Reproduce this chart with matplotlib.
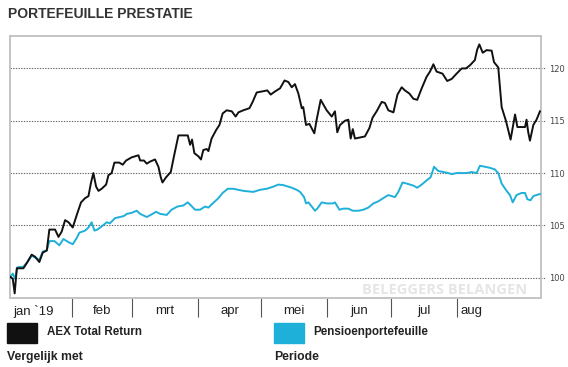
import matplotlib
matplotlib.use("Agg")
import matplotlib.pyplot as plt

# x = calendar day of 2019 (1 = 1 jan)
aex_days = [1.8, 3.1, 4.0, 5.0, 8.1, 9.7, 12.0, 13.6, 15.6, 17.2, 19.1, 20.3, 23.0, 24.6,
            26.1, 27.7, 29.3, 31.3, 33.2, 35.2, 37.1, 38.7, 39.8, 41.0, 42.3, 43.4, 44.9,
            47.0, 48.1, 49.6, 50.9, 53.2, 54.8, 56.4, 59.0, 62.2, 63.0, 64.8, 66.1, 67.7,
            70.0, 71.6, 72.7, 73.5, 75.2, 77.4, 78.9, 81.0, 85.4, 86.5, 87.4, 88.5, 90.4,
            91.6, 92.7, 94.3, 95.1, 96.6, 98.7, 100.3, 101.8, 103.7, 106.1, 107.9, 109.2,
            111.5, 114.4, 115.9, 117.8, 120.2, 122.8, 124.4, 126.4, 128.8, 130.9, 132.7,
            134.3, 135.8, 137.4, 139.0, 139.7, 141.0, 142.6, 144.9, 146.0, 147.9, 150.7,
            153.1, 154.6, 155.7, 157.0, 159.3, 160.9, 162.0, 163.0, 164.0, 166.4, 168.7,
            170.8, 172.3, 174.2, 176.6, 178.1, 179.7, 182.1, 184.0, 186.0, 187.5, 189.6,
            191.5, 193.3, 195.4, 197.7, 199.3, 200.9, 202.4, 205.2, 207.4, 209.5, 211.8,
            214.2, 216.2, 218.1, 220.4, 221.5, 222.5, 224.1, 225.9, 228.3, 229.4, 230.6,
            231.4, 233.0, 235.0, 237.2, 239.3, 240.4, 244.0, 244.7, 245.5, 246.3, 247.9,
            249.4, 251.0]
aex_vals = [100.1, 99.9, 98.5, 100.9, 100.9, 101.4, 102.2, 102.0, 101.5, 102.4, 102.6,
            104.6, 104.6, 103.9, 104.4, 105.5, 105.3, 104.8, 106.0, 107.2, 107.6, 107.8,
            109.0, 110.0, 108.7, 108.3, 108.5, 108.9, 109.8, 110.0, 111.0, 111.0, 110.8,
            111.2, 111.5, 111.7, 111.2, 111.2, 110.9, 111.1, 111.3, 110.6, 109.6, 109.1,
            109.6, 110.1, 111.6, 113.6, 113.6, 112.7, 113.2, 111.9, 111.6, 111.3, 112.2,
            112.3, 112.1, 113.3, 114.1, 114.6, 115.7, 116.0, 115.9, 115.4, 115.8, 116.0,
            116.2, 116.8, 117.7, 117.8, 117.9, 117.5, 117.8, 118.1, 118.85, 118.7, 118.2,
            118.5, 117.6, 116.2, 116.3, 114.6, 114.7, 113.8, 115.1, 117.0, 116.0, 115.4,
            115.9, 113.9, 114.6, 115.0, 115.1, 113.3, 114.2, 113.3, 113.4, 113.5, 114.3,
            115.3, 115.9, 116.8, 116.7, 116.0, 115.8, 117.5, 118.2, 117.9, 117.6, 117.1,
            117.0, 118.1, 119.2, 119.7, 120.4, 119.7, 119.5, 118.8, 119.0, 119.5, 120.0,
            120.0, 120.3, 120.8, 121.8, 122.3, 121.5, 121.75, 121.7, 120.6, 120.3, 120.1,
            116.3, 115.0, 113.2, 115.6, 114.4, 114.4, 115.1, 113.9, 113.1, 114.6, 115.1,
            115.9]

pensioen_days = [1.8, 3.1, 4.2, 5.3, 8.1, 10.0, 12.0, 13.9, 15.6, 17.2, 19.1, 20.3, 22.7,
                 25.0, 26.9, 29.3, 31.3, 33.2, 34.4, 37.1, 38.7, 40.2, 41.5, 42.9, 44.9,
                 47.3, 48.8, 51.2, 53.5, 55.4, 56.7, 59.0, 61.4, 63.0, 66.1, 68.4, 70.5,
                 72.4, 75.5, 77.8, 80.5, 83.3, 85.4, 86.9, 88.8, 91.2, 93.5, 95.1, 96.6,
                 99.8, 101.8, 104.2, 106.8, 111.5, 116.2, 119.4, 122.5, 125.6, 128.0,
                 130.3, 131.9, 134.3, 136.6, 138.2, 140.1, 141.0, 142.1, 143.7, 145.2,
                 146.3, 148.4, 150.7, 153.8, 154.6, 156.7, 158.5, 160.9, 163.0, 165.6,
                 168.0, 170.3, 172.7, 175.0, 177.3, 179.7, 182.8, 184.4, 186.4, 188.3,
                 191.5, 193.3, 195.4, 197.7, 199.6, 201.2, 203.2, 205.6, 207.9, 209.5,
                 211.8, 214.2, 216.5, 218.9, 221.2, 222.8, 225.2, 227.5, 229.8, 231.4,
                 233.0, 235.3, 236.9, 238.2, 240.0, 242.4, 244.0, 245.1, 246.6, 247.9,
                 249.4, 251.0]
pensioen_vals = [100.0, 100.4, 99.9, 101.0, 101.05, 101.5, 102.1, 101.9, 101.7, 102.5,
                 102.6, 103.5, 103.5, 103.1, 103.7, 103.4, 103.2, 103.8, 104.3, 104.5,
                 104.8, 105.3, 104.5, 104.6, 104.9, 105.3, 105.2, 105.7, 105.8, 105.9,
                 106.1, 106.2, 106.4, 106.1, 105.8, 106.05, 106.3, 106.1, 106.0, 106.5,
                 106.8, 106.9, 107.2, 106.9, 106.5, 106.5, 106.8, 106.7, 107.0, 107.6,
                 108.1, 108.5, 108.5, 108.3, 108.2, 108.4, 108.5, 108.7, 108.9, 108.85,
                 108.75, 108.6, 108.4, 108.2, 107.7, 107.1, 107.2, 106.8, 106.4, 106.6,
                 107.2, 107.1, 107.1, 107.2, 106.5, 106.6, 106.6, 106.4, 106.4, 106.5,
                 106.7, 107.1, 107.3, 107.6, 107.9, 107.7, 108.2, 109.1, 109.0, 108.8,
                 108.6, 108.9, 109.3, 109.6, 110.6, 110.2, 110.1, 110.0, 109.9, 110.0,
                 110.0, 110.0, 110.1, 110.0, 110.7, 110.6, 110.5, 110.35, 110.0, 109.0,
                 108.3, 107.9, 107.2, 107.9, 108.1, 108.1, 107.5, 107.4, 107.8, 107.9,
                 108.0]

month_starts = [31, 59, 90, 120, 151, 181, 212]
month_label_pos = [13, 45, 74.5, 105, 135.5, 166, 196.5, 219]
month_labels = ["jan `19", "feb", "mrt", "apr", "mei", "jun", "jul", "aug"]
y_ticks = [100, 105, 110, 115, 120]

black = "#111111"
blue = "#1fb0da"
sans = ["Liberation Sans", "DejaVu Sans"]

fig = plt.figure(figsize=(5.68, 3.67), dpi=100)
ax = fig.add_axes([10 / 568, 1 - 298 / 367, 531 / 568, 262 / 367])

for v in y_ticks:
    ax.axhline(v, xmin=0, xmax=1.008, color="#666666", lw=0.8,
               ls=(0, (1.2, 1.2)), clip_on=False, zorder=1)

ax.plot(pensioen_days, pensioen_vals, color=blue, lw=1.4, zorder=3)
ax.plot(aex_days, aex_vals, color=black, lw=1.4, zorder=4)

ax.text(0.975, 0.03, "BELEGGERS BELANGEN", transform=ax.transAxes, ha="right",
        va="center", fontsize=10.5, fontweight="bold", color="#e5e5e5", zorder=2,
        family=["Open Sans", "DejaVu Sans"])

ax.set_xlim(1.8, 251.5)
ax.set_ylim(98.06, 123.1)

for s in ax.spines.values():
    s.set_color("#c4c4c4")
    s.set_linewidth(1.4)

ax.yaxis.tick_right()
ax.set_yticks(y_ticks)
ax.set_yticklabels([str(v) for v in y_ticks], fontsize=6, color="#444444")
ax.tick_params(axis="y", length=0, pad=6)

ax.set_xticks(month_starts)
ax.set_xticklabels([])
ax.tick_params(axis="x", which="major", length=14, width=0.8, color="#555555")
ax.set_xticks(month_label_pos, minor=True)
ax.set_xticklabels(month_labels, minor=True, fontsize=9.5, color="#222222", family=sans)
ax.tick_params(axis="x", which="minor", length=0, pad=5)

fig.text(8 / 568, 1 - 14 / 367, "PORTEFEUILLE PRESTATIE", ha="left", va="center",
         fontsize=10, fontweight="bold", color="#333333", family=sans)

fig.patches.append(plt.Rectangle((7 / 568, 1 - 343 / 367), 30 / 568, 20 / 367,
                                 transform=fig.transFigure, color=black))
fig.patches.append(plt.Rectangle((274 / 568, 1 - 343 / 367), 30 / 568, 20 / 367,
                                 transform=fig.transFigure, color=blue))
fig.text(47 / 568, 1 - 332 / 367, "AEX Total Return", ha="left", va="center",
         fontsize=8.4, fontweight="bold", color="#222222", family=sans)
fig.text(313 / 568, 1 - 332 / 367, "Pensioenportefeuille", ha="left", va="center",
         fontsize=8.4, fontweight="bold", color="#222222", family=sans)
fig.text(7 / 568, 1 - 357 / 367, "Vergelijk met", ha="left", va="center",
         fontsize=8.8, fontweight="bold", color="#222222", family=sans)
fig.text(274 / 568, 1 - 357 / 367, "Periode", ha="left", va="center",
         fontsize=8.8, fontweight="bold", color="#222222", family=sans)

fig.savefig("out.png", dpi=100)
